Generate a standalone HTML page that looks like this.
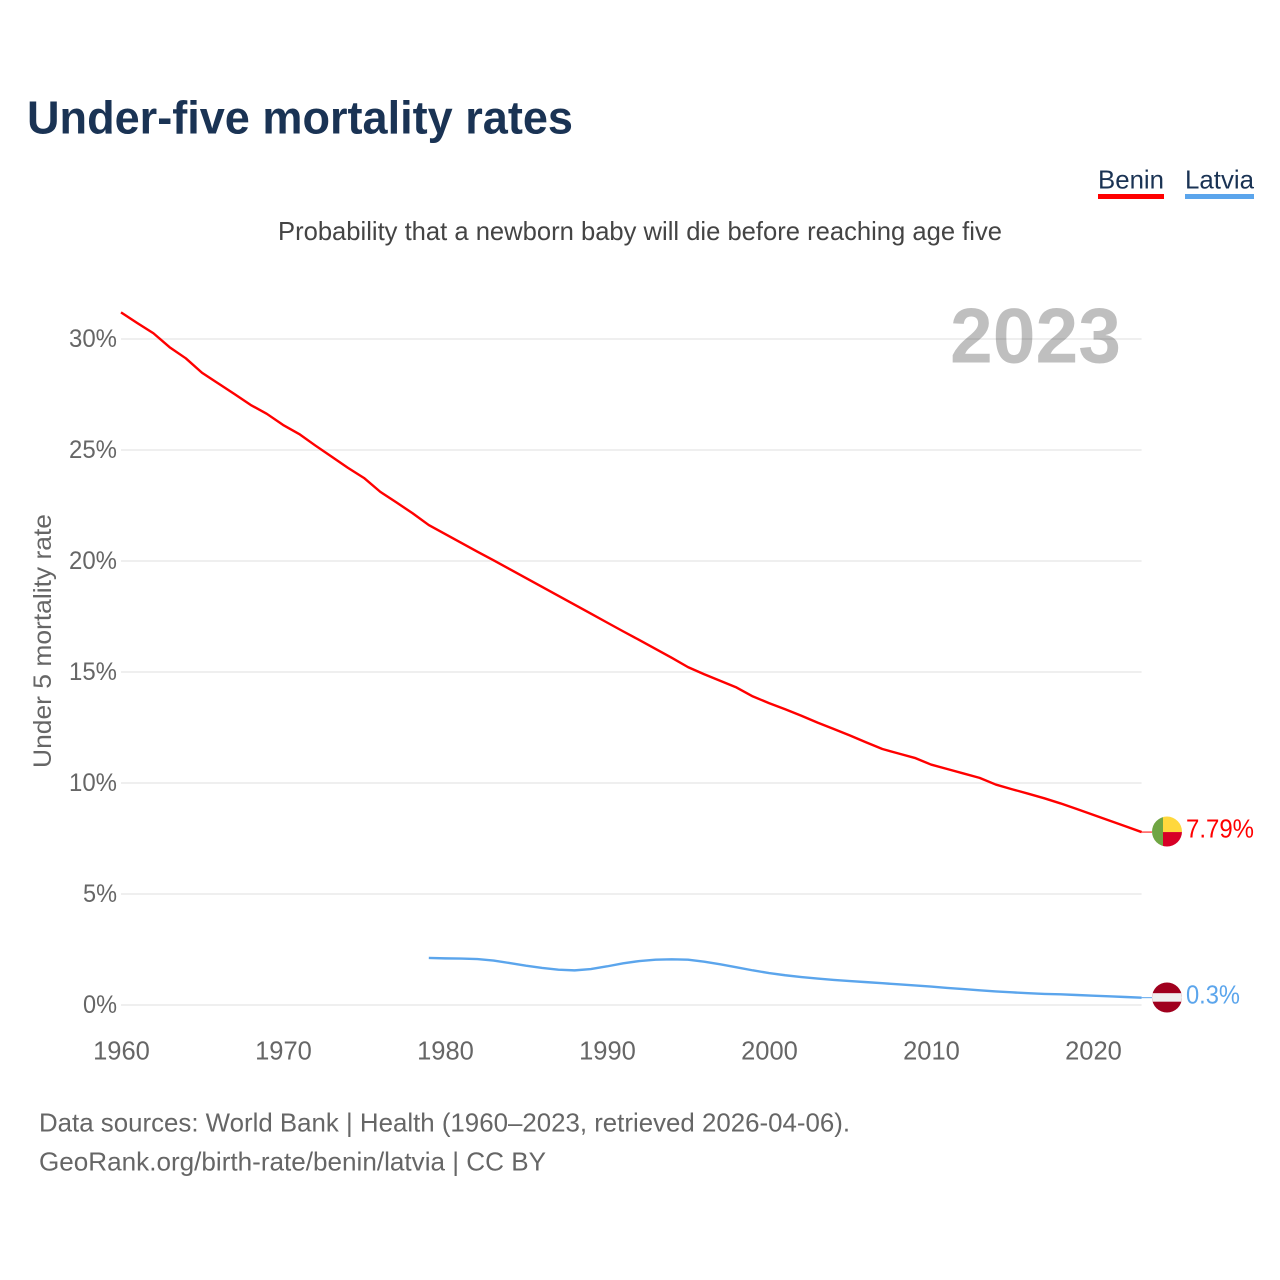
<!DOCTYPE html>
<html lang="en">
<head>
<meta charset="utf-8">
<title>Under-five mortality rates</title>
<style>
html,body{margin:0;padding:0;background:#fff;width:1280px;height:1280px;overflow:hidden}
svg{display:block}
text{font-family:"Liberation Sans",sans-serif}
</style>
</head>
<body>
<svg id="chart" xmlns="http://www.w3.org/2000/svg" width="1280" height="1280" viewBox="0 0 1280 1280">
  <rect width="1280" height="1280" fill="#fff"/>
  <defs>
    <clipPath id="benin-clip"><circle id="benin-clip-circle" r="15"/></clipPath>
    <clipPath id="latvia-clip"><circle id="latvia-clip-circle" r="15"/></clipPath>
  </defs>
  <text x="27" y="133.5" font-size="46.5" font-weight="700" fill="#1a3354" textLength="546" lengthAdjust="spacingAndGlyphs">Under-five mortality rates</text>
  <g>
    <g>
      <text x="1098" y="188.5" font-size="26" fill="#1a3354" textLength="66" lengthAdjust="spacingAndGlyphs">Benin</text>
      <rect x="1098" y="194" width="66" height="5" fill="#ff0000"/>
    </g>
    <g>
      <text x="1185" y="188.5" font-size="26" fill="#1a3354" textLength="69" lengthAdjust="spacingAndGlyphs">Latvia</text>
      <rect x="1185" y="194" width="69" height="5" fill="#5ba5ec"/>
    </g>
  </g>
  <text x="278" y="240" font-size="26" fill="#444444" textLength="724" lengthAdjust="spacingAndGlyphs">Probability that a newborn baby will die before reaching age five</text>
  <g id="grid"></g>
  <text x="950" y="362.5" font-size="78" font-weight="700" fill="#000000" fill-opacity="0.25" textLength="171" lengthAdjust="spacingAndGlyphs">2023</text>
  <g id="y-ticks"></g>
  <g id="x-ticks"></g>
  <text transform="translate(51 768) rotate(-90)" font-size="25" fill="#666666" textLength="254" lengthAdjust="spacingAndGlyphs">Under 5 mortality rate</text>
  <g id="series"></g>
  <g id="end-marks"></g>
  <text x="39" y="1131.5" font-size="26" fill="#666666" textLength="811" lengthAdjust="spacingAndGlyphs">Data sources: World Bank | Health (1960–2023, retrieved 2026-04-06).</text>
  <text x="39" y="1170.5" font-size="26" fill="#666666" textLength="507" lengthAdjust="spacingAndGlyphs">GeoRank.org/birth-rate/benin/latvia | CC BY</text>
</svg>
<script>
const years = [1960,1961,1962,1963,1964,1965,1966,1967,1968,1969,1970,1971,1972,1973,1974,1975,1976,1977,1978,1979,1980,1981,1982,1983,1984,1985,1986,1987,1988,1989,1990,1991,1992,1993,1994,1995,1996,1997,1998,1999,2000,2001,2002,2003,2004,2005,2006,2007,2008,2009,2010,2011,2012,2013,2014,2015,2016,2017,2018,2019,2020,2021,2022,2023];
const beninValues = [31.2,30.72,30.26,29.63,29.13,28.48,28.0,27.52,27.03,26.63,26.13,25.72,25.2,24.7,24.2,23.74,23.12,22.64,22.15,21.62,21.22,20.82,20.42,20.03,19.63,19.23,18.83,18.43,18.03,17.63,17.23,16.83,16.44,16.04,15.64,15.22,14.9,14.6,14.3,13.9,13.6,13.32,13.03,12.72,12.43,12.14,11.83,11.53,11.33,11.13,10.83,10.63,10.43,10.23,9.93,9.72,9.52,9.31,9.08,8.83,8.57,8.31,8.05,7.79];
const latviaValues = [null,null,null,null,null,null,null,null,null,null,null,null,null,null,null,null,null,null,null,2.12,2.1,2.09,2.07,2.0,1.89,1.77,1.67,1.59,1.56,1.62,1.74,1.88,1.98,2.04,2.06,2.04,1.95,1.83,1.7,1.56,1.44,1.34,1.26,1.19,1.13,1.08,1.03,0.98,0.93,0.88,0.83,0.77,0.72,0.66,0.61,0.57,0.53,0.5,0.48,0.45,0.42,0.39,0.36,0.33];
const yTickValues = [0,5,10,15,20,25,30];
const yTickLabels = ["0%","5%","10%","15%","20%","25%","30%"];
const xTickValues = [1960,1970,1980,1990,2000,2010,2020];
const xTickLabels = ["1960","1970","1980","1990","2000","2010","2020"];
const beninEndLabel = "7.79%";
const latviaEndLabel = "0.3%";

const SVG_NS = "http://www.w3.org/2000/svg";
function xScale(year){ return 121 + (year - 1960) * 16.2; }
function yScale(value){ return 1005 - value * 22.2; }
function make(tag, attrs, parent){
  const el = document.createElementNS(SVG_NS, tag);
  for (const k in attrs) el.setAttribute(k, attrs[k]);
  parent.appendChild(el);
  return el;
}
function linePath(values){
  let d = "";
  values.forEach((v, i) => {
    if (v === null) return;
    d += (d ? "L" : "M") + xScale(years[i]).toFixed(2) + " " + yScale(v).toFixed(2);
  });
  return d;
}

const grid = document.getElementById("grid");
const yTicksG = document.getElementById("y-ticks");
yTickValues.forEach((v, i) => {
  const line = make("line", {x1: xScale(1960), x2: xScale(2023), y1: yScale(v), y2: yScale(v), stroke: "#efefef", "stroke-width": 2}, grid);
  
  
  const label = yTickLabels[i];
  const t = make("text", {x: 117 - (14 * (label.length - 1) + 20), y: yScale(v) + 8, "font-size": 25, fill: "#666666", textLength: 14 * (label.length - 1) + 20, lengthAdjust: "spacingAndGlyphs"}, yTicksG);
  t.textContent = label;
  
  
});

const xTicksG = document.getElementById("x-ticks");
xTickValues.forEach((v, i) => {
  const t = make("text", {x: xScale(v) + 0.5, y: 1059.5, "font-size": 25.5, fill: "#666666", "text-anchor": "middle"}, xTicksG);
  t.textContent = xTickLabels[i];
  
  
});

const seriesG = document.getElementById("series");
const beninLine = make("path", {d: linePath(beninValues), fill: "none", stroke: "#ff0000", "stroke-width": 2.4, "stroke-linejoin": "round"}, seriesG);


const latviaLine = make("path", {d: linePath(latviaValues), fill: "none", stroke: "#5ba5ec", "stroke-width": 2.4, "stroke-linejoin": "round"}, seriesG);



const marks = document.getElementById("end-marks");
const endX = xScale(2023);
const flagX = 1167;
const beninY = yScale(beninValues[beninValues.length - 1]);
const latviaY = yScale(latviaValues[latviaValues.length - 1]);

const beninConn = make("line", {x1: endX, x2: flagX - 15, y1: beninY, y2: beninY, stroke: "#ff0000", "stroke-width": 1}, marks);


const latviaConn = make("line", {x1: endX, x2: flagX - 15, y1: latviaY, y2: latviaY, stroke: "#5ba5ec", "stroke-width": 1}, marks);



document.getElementById("benin-clip-circle").setAttribute("cx", flagX);
document.getElementById("benin-clip-circle").setAttribute("cy", beninY - 0.5);
document.getElementById("latvia-clip-circle").setAttribute("cx", flagX);
document.getElementById("latvia-clip-circle").setAttribute("cy", latviaY - 0.2);

const beninFlag = make("g", {"clip-path": "url(#benin-clip)"}, marks);


make("rect", {x: flagX - 15, y: beninY - 16, width: 11, height: 31, fill: "#6fa543"}, beninFlag);
make("rect", {x: flagX - 4, y: beninY - 16, width: 19, height: 16, fill: "#ffd83d"}, beninFlag);
make("rect", {x: flagX - 4, y: beninY, width: 19, height: 16, fill: "#d70026"}, beninFlag);

const latviaFlag = make("g", {"clip-path": "url(#latvia-clip)"}, marks);


make("rect", {x: flagX - 15, y: latviaY - 16, width: 30, height: 32, fill: "#a0001e"}, latviaFlag);
make("rect", {x: flagX - 15, y: latviaY - 4.5, width: 30, height: 8.5, fill: "#f0f0f0"}, latviaFlag);

const beninLabel = make("text", {x: 1186, y: beninY + 5.5, "font-size": 26, fill: "#ff0000", textLength: 68, lengthAdjust: "spacingAndGlyphs"}, marks);
beninLabel.textContent = beninEndLabel;


const latviaLabel = make("text", {x: 1186, y: latviaY + 6, "font-size": 26, fill: "#5ba5ec", textLength: 54, lengthAdjust: "spacingAndGlyphs"}, marks);
latviaLabel.textContent = latviaEndLabel;


</script>
</body>
</html>
